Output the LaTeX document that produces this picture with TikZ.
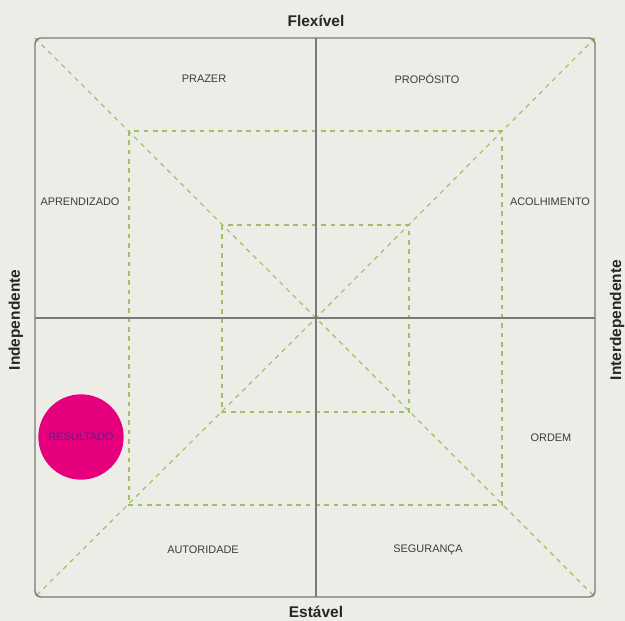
\documentclass[tikz,border=0pt]{standalone}
\usepackage{fontspec}
\setmainfont{Liberation Sans}
\definecolor{bg}{HTML}{ECEDE6}
\definecolor{frame}{HTML}{7A7A7A}
\definecolor{guide}{HTML}{9FC063}
\definecolor{lbl}{HTML}{3C3C3C}
\definecolor{mag}{HTML}{E6007E}
\definecolor{magtxt}{HTML}{5A1E8C}
\tikzset{
  guideline/.style={draw=guide, line width=0.85pt, dash pattern=on 3.5pt off 3.5pt},
  axisline/.style={draw=frame, line width=0.9pt},
  quadlbl/.style={font=\fontsize{8.2}{9}\selectfont, text=lbl, inner sep=0pt},
  sidelbl/.style={font=\bfseries\fontsize{11.6}{13}\selectfont, text=black!85, inner sep=0pt},
}
\begin{document}
\begin{tikzpicture}[x=0.75pt,y=-0.75pt]
\fill[bg] (0,0) rectangle (625,621);
\useasboundingbox (0,0) rectangle (625,621);
% corners
\coordinate (TL) at (35,38);
\coordinate (TR) at (595,38);
\coordinate (BR) at (595,597);
\coordinate (BL) at (35,597);
\coordinate (C) at (316,318);
\coordinate (T) at (316,38);
\coordinate (B) at (316,597);
\coordinate (L) at (35,318);
\coordinate (R) at (595,318);
% guides
\draw[guideline] (129,131) rectangle (502,505);
\draw[guideline] (222,225) rectangle (409,412);
\draw[guideline] (TL) -- (C) -- (BR);
\draw[guideline] (TR) -- (C) -- (BL);
% axes
\draw[axisline] (T) -- (B);
\draw[axisline] (L) -- (R);
\draw[axisline, line width=1.1pt, rounded corners=4pt] (TL) rectangle (BR);
% circle
\node[circle, fill=mag, minimum size=64pt, inner sep=0pt] (res) at (81,437) {};
\node[quadlbl, text=magtxt] (resl) at (res.center) {RESULTADO};
% quadrant labels
\node[quadlbl] (prazer) at (204,79) {PRAZER};
\node[quadlbl] (proposito) at (427,79) {PROPÓSITO};
\node[quadlbl] (aprend) at (80,202) {APRENDIZADO};
\node[quadlbl] (acolh) at (550,202) {ACOLHIMENTO};
\node[quadlbl] (ordem) at (551,438) {ORDEM};
\node[quadlbl] (autor) at (203,550) {AUTORIDADE};
\node[quadlbl] (segur) at (428,550) {SEGURANÇA};
% side labels
\node[sidelbl] (flex) at (316,21) {Flexível};
\node[sidelbl] (est) at (316,612) {Estável};
\node[sidelbl, rotate=90] (indep) at (16,320) {Independente};
\node[sidelbl, rotate=90] (inter) at (617,320) {Interdependente};
\end{tikzpicture}
\end{document}
